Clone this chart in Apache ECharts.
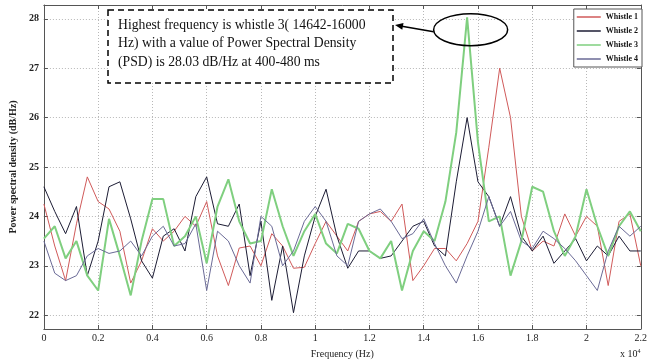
<!DOCTYPE html>
<html>
<head>
<meta charset="utf-8">
<script src="https://cdn.jsdelivr.net/npm/echarts@6/dist/echarts.min.js"></script>
<style>
  html, body { margin: 0; padding: 0; background: #fff; }
  #psd-chart { width: 650px; height: 364px; }
</style>
</head>
<body>
<div id="psd-chart"></div>
<script>
// frequency bins (Hz)
const freqHz = [0, 400, 800, 1200, 1600, 2000, 2400, 2800, 3200, 3600,
  4000, 4400, 4800, 5200, 5600, 6000, 6400, 6800, 7200, 7600,
  8000, 8400, 8800, 9200, 9600, 10000, 10400, 10800, 11200, 11600,
  12000, 12400, 12800, 13200, 13600, 14000, 14400, 14800, 15200, 15600,
  16000, 16400, 16800, 17200, 17600, 18000, 18400, 18800, 19200, 19600,
  20000, 20400, 20800, 21200, 21600, 22000];

// PSD (dB/Hz)
const whistle1 = [24.25, 23.4, 22.7, 23.85, 24.8, 24.3, 24.15, 23.7, 22.65, 23.1,
  23.75, 23.5, 23.7, 24.0, 23.8, 24.3, 23.2, 22.6, 23.36, 23.4,
  23.0, 23.65, 23.4, 22.95, 22.97, 23.45, 23.9, 23.6, 23.3, 23.9,
  24.05, 24.1, 23.9, 24.25, 22.7, 23.0, 23.35, 23.35, 23.1, 23.45,
  23.9, 25.4, 27.0, 26.0, 24.0, 23.3, 23.5, 23.4, 24.05, 23.6,
  24.0, 23.8, 22.6, 23.9, 24.05, 23.0];
const whistle2 = [24.6, 24.1, 23.65, 24.2, 22.8, 23.5, 24.6, 24.7, 23.95, 23.1,
  22.75, 23.6, 23.75, 23.3, 24.4, 24.8, 23.85, 23.8, 24.25, 22.8,
  23.9, 22.3, 23.4, 22.05, 23.2, 24.0, 24.55, 23.6, 22.95, 23.3,
  23.3, 23.15, 23.2, 23.5, 23.8, 23.9, 23.4, 23.2, 24.7, 26.0,
  24.7, 24.4, 23.8, 24.4, 23.6, 23.3, 23.6, 23.05, 23.3, 23.55,
  23.1, 23.4, 23.2, 23.6, 23.3, 23.3];
const whistle3 = [23.55, 23.8, 23.15, 23.5, 22.8, 22.5, 23.95, 23.2, 22.4, 23.5,
  24.35, 24.35, 23.4, 23.6, 24.0, 23.05, 24.2, 24.75, 23.9, 23.45,
  23.5, 24.55, 23.8, 23.2, 23.7, 24.05, 23.45, 23.25, 23.85, 23.75,
  23.3, 23.15, 23.5, 22.5, 23.3, 23.7, 23.5, 24.3, 25.7, 28.03,
  25.5, 23.9, 24.0, 22.8, 23.5, 24.6, 24.5, 23.7, 23.2, 23.6,
  24.55, 23.8, 23.2, 23.8, 24.1, 23.7];
const whistle4 = [23.5, 22.85, 22.7, 22.8, 23.2, 23.35, 23.25, 23.3, 23.5, 23.2,
  23.6, 23.8, 23.4, 23.45, 23.85, 22.5, 23.7, 23.5, 23.0, 22.65,
  24.0, 23.8, 23.0, 23.3, 23.9, 24.2, 23.9, 23.2, 23.0, 23.9,
  24.05, 24.15, 23.9, 23.55, 23.65, 23.95, 23.45, 23.0, 22.65, 23.2,
  23.7, 24.4, 23.8, 24.1, 23.5, 23.35, 23.7, 23.55, 23.35, 23.1,
  22.8, 22.5, 23.3, 23.8, 23.6, 23.8];

const names = ["Whistle 1", "Whistle 2", "Whistle 3", "Whistle 4"];
const colors = ["#d05a5a", "#1c1c34", "#7fcf7f", "#6a6a96"];
const widths = [1, 1, 2, 1];

const annotationLines = [
  "Highest frequency is whistle 3( 14642-16000",
  "Hz) with a value of Power Spectral Density",
  "(PSD) is 28.03 dB/Hz at 400-480 ms",
];
const peakMark = [15730, 27.78]; // ellipse centre, data units

const serif = "Liberation Serif";
let chartDom = document.getElementById("psd-chart");
let myChart = echarts.init(chartDom, null, { renderer: "canvas" });

function pairs(vals) {
  return freqHz.map(function (f, i) { return [f, vals[i]]; });
}

function xAx(pos, showLabel) {
  return {
    type: "value",
    position: pos,
    min: 0,
    max: 22000,
    interval: 2000,
    name: showLabel ? "Frequency (Hz)" : "",
    nameLocation: "middle",
    nameGap: 20,
    nameTextStyle: { fontFamily: serif, fontSize: 10, color: "#222" },
    axisLine: { show: true, onZero: false, lineStyle: { color: "#555", width: 1 } },
    axisTick: { show: true, inside: true, length: 4, lineStyle: { color: "#555" } },
    axisLabel: {
      show: showLabel,
      margin: 4,
      fontFamily: serif,
      fontSize: 10,
      color: "#222",
      formatter: function (v) { return String(+(v / 10000).toFixed(1)); },
    },
    splitLine: {
      show: showLabel,
      lineStyle: { color: "#b8b8b8", type: [1, 2], width: 1 },
    },
  };
}

function yAx(pos, showLabel) {
  return {
    type: "value",
    position: pos,
    min: 21.72,
    max: 28.28,
    splitNumber: 6,
    name: showLabel ? "Power spectral density (dB/Hz)" : "",
    nameLocation: "middle",
    nameGap: 16,
    nameTextStyle: { fontFamily: serif, fontSize: 10, fontWeight: "bold", color: "#222" },
    axisLine: { show: true, onZero: false, lineStyle: { color: "#555", width: 1 } },
    axisTick: { show: true, inside: true, length: 4, lineStyle: { color: "#555" } },
    axisLabel: {
      show: showLabel,
      margin: 5,
      fontFamily: serif,
      fontSize: 10,
      fontWeight: "bold",
      color: "#222",
      formatter: function (v) { return Number.isInteger(v) ? String(v) : ""; },
    },
    splitLine: {
      show: showLabel,
      lineStyle: { color: "#b8b8b8", type: [1, 2], width: 1 },
    },
  };
}

let option = {
  animation: false,
  backgroundColor: "#fff",
  grid: { left: 29, right: 8, top: 5, bottom: 32 },
  legend: {
    orient: "vertical",
    right: 8,
    top: 9,
    icon: "rect",
    itemWidth: 24,
    itemHeight: 1.5,
    itemGap: 4,
    padding: [3, 4, 3, 3],
    backgroundColor: "#fff",
    borderColor: "#555",
    borderWidth: 1,
    borderRadius: 0,
    textStyle: { fontFamily: serif, fontSize: 8, fontWeight: "bold", color: "#111", lineHeight: 10 },
    data: names,
  },
  xAxis: [xAx("bottom", true), xAx("top", false)],
  yAxis: [yAx("left", true), yAx("right", false)],
  series: [whistle1, whistle2, whistle3, whistle4].map(function (vals, i) {
    return {
      name: names[i],
      type: "line",
      data: pairs(vals),
      symbol: "none",
      smooth: false,
      lineStyle: { color: colors[i], width: widths[i] },
      itemStyle: { color: colors[i] },
    };
  }),
};
myChart.setOption(option);

// annotation: dashed callout, ellipse around the peak, arrow between them
const c = myChart.convertToPixel({ gridIndex: 0 }, peakMark);
const box = { x: 108, y: 10, width: 285, height: 73 };
const rx = 37, ry = 16;
const ax0 = c[0] - rx, ay0 = c[1] + 2;
const ax1 = box.x + box.width + 2, ay1 = 25;
const ang = Math.atan2(ay0 - ay1, ax0 - ax1);
const hl = 8, hw = 3.5;
const head = [
  [ax1, ay1],
  [ax1 + hl * Math.cos(ang) - hw * Math.sin(ang), ay1 + hl * Math.sin(ang) + hw * Math.cos(ang)],
  [ax1 + hl * Math.cos(ang) + hw * Math.sin(ang), ay1 + hl * Math.sin(ang) - hw * Math.cos(ang)],
];

myChart.setOption({
  graphic: [
    {
      type: "rect",
      z: 100,
      shape: box,
      style: { fill: "#fff", stroke: "#000", lineWidth: 1.5, lineDash: [6, 4] },
    },
    {
      type: "text",
      z: 101,
      left: 118,
      top: 16,
      style: {
        text: annotationLines.join("\n"),
        fontFamily: serif,
        fontSize: 13.7,
        lineHeight: 18.5,
        fill: "#111",
      },
    },
    {
      type: "ellipse",
      z: 100,
      shape: { cx: c[0], cy: c[1], rx: rx, ry: ry },
      style: { fill: null, stroke: "#000", lineWidth: 1.5 },
    },
    {
      type: "line",
      z: 100,
      shape: { x1: ax0, y1: ay0, x2: ax1 + 4, y2: ay1 + 0.8 },
      style: { stroke: "#000", lineWidth: 1.6 },
    },
    {
      type: "polygon",
      z: 100,
      shape: { points: head },
      style: { fill: "#000" },
    },
    {
      type: "text",
      z: 100,
      left: 620,
      top: 348,
      style: {
        text: "x 10{s|4}",
        fontFamily: serif,
        fontSize: 10,
        fill: "#222",
        rich: { s: { fontFamily: serif, fontSize: 6, verticalAlign: "top", padding: [0, 0, 6, 0] } },
      },
    },
  ],
});
</script>
</body>
</html>
